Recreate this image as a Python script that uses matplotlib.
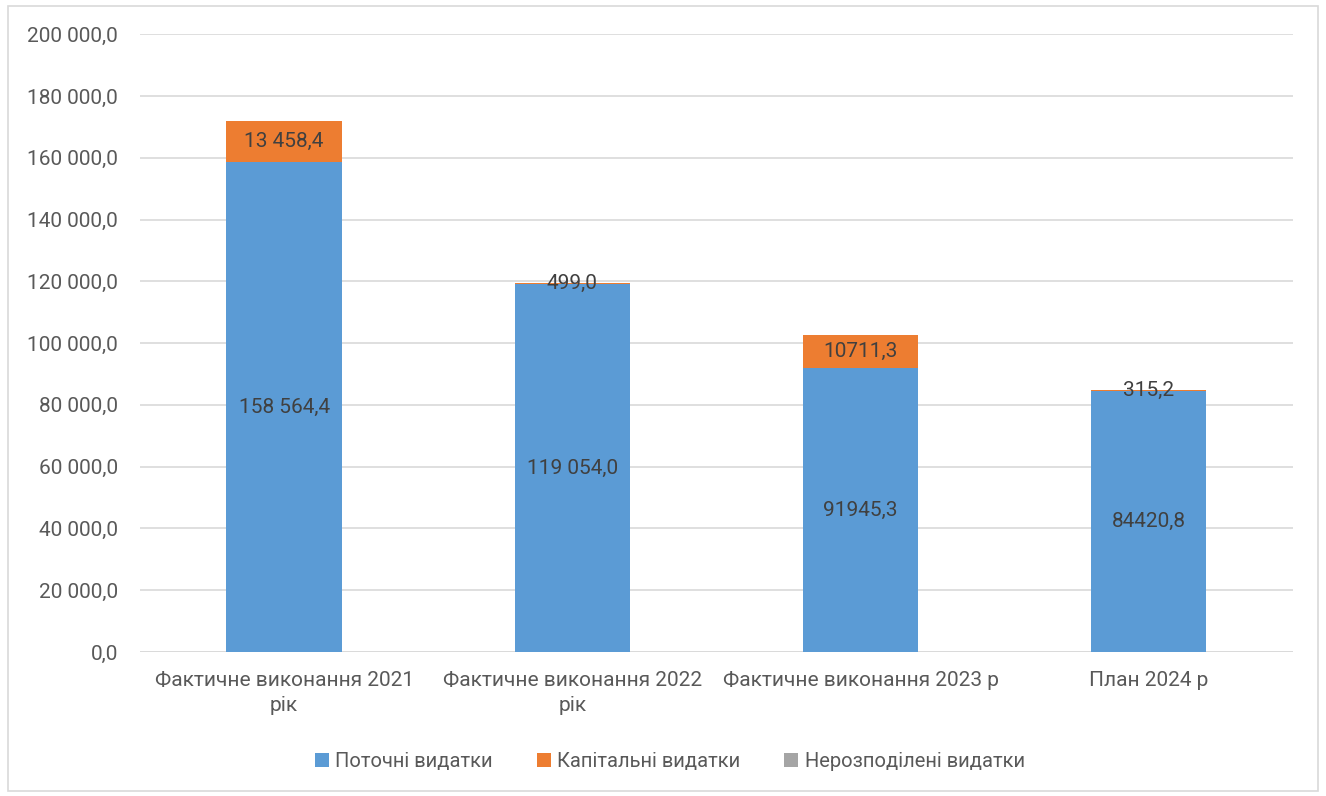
import numpy as np
import matplotlib.pyplot as plt
from matplotlib.patches import Rectangle

plt.rcParams['font.family'] = ['Roboto', 'DejaVu Sans']

categories = ["Фактичне виконання 2021\nрік", "Фактичне виконання 2022\nрік",
              "Фактичне виконання 2023 р", "План 2024 р"]
series_names = ["Поточні видатки", "Капітальні видатки", "Нерозподілені видатки"]
current = [158564.4, 119054.0, 91945.3, 84420.8]
capital = [13458.4, 499.0, 10711.3, 315.2]
unallocated = [0, 0, 0, 0]
current_labels = ["158 564,4", "119 054,0", "91945,3", "84420,8"]
capital_labels = ["13 458,4", "499,0", "10711,3", "315,2"]
yticks = np.arange(0, 200001, 20000)

colors = ["#5B9BD5", "#ED7D31", "#A5A5A5"]
text_col = "#595959"
label_col = "#404040"

fig = plt.figure(figsize=(13.26, 7.96), dpi=100)
ax = fig.add_axes([0.1056, 0.181, 0.8694, 0.776])

x = np.arange(len(categories))
w = 0.4
ax.bar(x, current, w, color=colors[0], label=series_names[0], zorder=2)
ax.bar(x, capital, w, bottom=current, color=colors[1], label=series_names[1], zorder=2)
bottom3 = np.array(current) + np.array(capital)
ax.bar(x, unallocated, w, bottom=bottom3, color=colors[2], label=series_names[2], zorder=2)

for i in range(len(x)):
    ax.text(x[i], current[i] / 2, current_labels[i], ha="center", va="center",
            fontsize=15, color=label_col, zorder=3)
    ax.text(x[i], current[i] + capital[i] / 2, capital_labels[i], ha="center", va="center",
            fontsize=15, color=label_col, zorder=3)

ax.set_xlim(-0.5, len(x) - 0.5)
ax.set_ylim(0, 200000)
ax.set_yticks(yticks)
ax.set_yticklabels([f"{v:,.1f}".replace(",", " ").replace(".", ",") for v in yticks])
ax.set_xticks(x)
ax.set_xticklabels(categories, linespacing=1.35)
ax.grid(axis="y", color="#D9D9D9", linewidth=1.2, zorder=0)
ax.tick_params(axis="both", length=0, labelsize=15, colors=text_col)
ax.tick_params(axis="y", pad=16)
ax.tick_params(axis="x", pad=14)
for s in ax.spines.values():
    s.set_visible(False)
ax.axhline(0, color="#D9D9D9", linewidth=1.2, zorder=1)

leg = fig.legend(loc="center", bbox_to_anchor=(0.505, 0.043), ncol=3, frameon=False,
                 fontsize=14.5, handlelength=0.7, handleheight=0.7, handletextpad=0.3,
                 columnspacing=2.2)
for t in leg.get_texts():
    t.set_color(text_col)

fig.patches.append(Rectangle((0.006, 0.006), 0.988, 0.986, transform=fig.transFigure,
                             fill=False, edgecolor="#D9D9D9", linewidth=1.2))

fig.savefig("out.png", dpi=100)
